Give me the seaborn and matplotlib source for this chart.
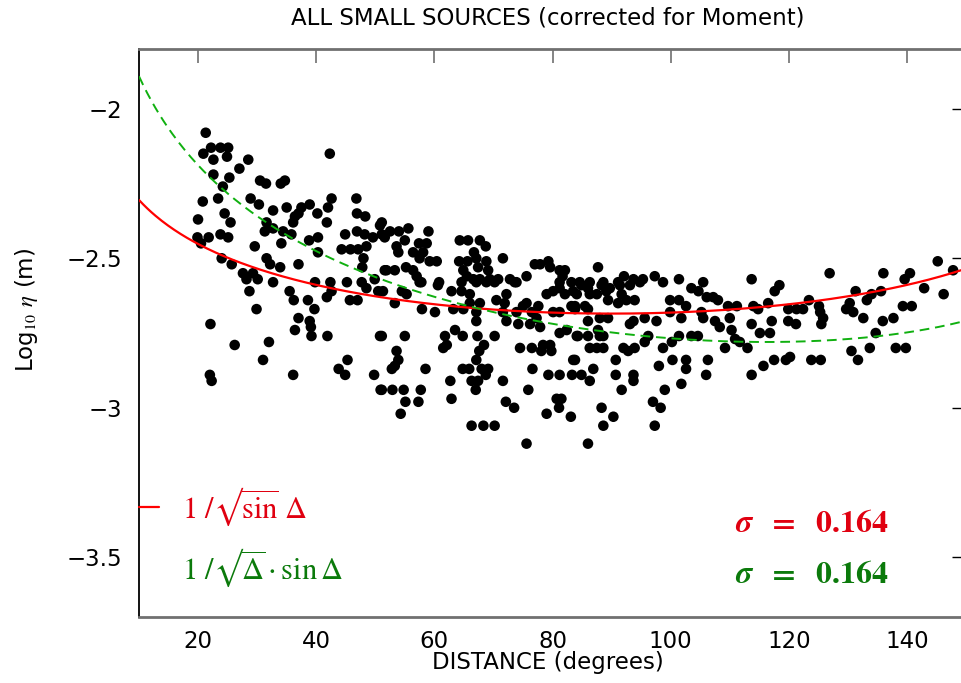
import numpy as np
import pandas as pd
import matplotlib
matplotlib.use("Agg")
import matplotlib.pyplot as plt
from matplotlib.lines import Line2D
import seaborn as sns

# ---------------- data ----------------
dist_a = [21.3,22.2,23.8,25.1,20.9,22.6,24.9,28.5,42.3,27.0,
          22.6,25.3,30.5,31.5,34.7,34.0,24.2,28.9,23.4,20.8,
          30.3,32.7,35.0,37.5,38.9,42.6,42.0,46.8,37.0,40.2,
          46.9,48.3,24.5,20.0,25.5,36.4,36.1,41.8,50.8,31.6,
          31.3,32.7,34.4,35.8,44.9,46.9,48.2,49.6,51.1,23.8,
          25.1,21.8,19.9,20.5,34.1,40.3,38.8,29.6,44.3,45.8,
          47.1,48.5,40.3,48.0,47.8,51.6,24.0,25.7,31.6,32.2,
          33.9,37.0,27.6,29.3,28.2,30.1,32.7,39.8,42.4,45.2,
          47.7,49.9]
eta_a = [-2.08,-2.13,-2.13,-2.13,-2.15,-2.17,-2.16,-2.17,-2.15,-2.20,
         -2.22,-2.23,-2.24,-2.25,-2.24,-2.25,-2.26,-2.30,-2.30,-2.31,
         -2.32,-2.34,-2.33,-2.33,-2.32,-2.30,-2.33,-2.30,-2.35,-2.35,
         -2.35,-2.36,-2.35,-2.37,-2.38,-2.36,-2.38,-2.38,-2.39,-2.38,
         -2.41,-2.40,-2.41,-2.42,-2.42,-2.41,-2.42,-2.43,-2.42,-2.42,
         -2.43,-2.43,-2.43,-2.45,-2.45,-2.43,-2.44,-2.46,-2.47,-2.47,
         -2.47,-2.46,-2.48,-2.50,-2.53,-2.54,-2.50,-2.52,-2.50,-2.52,
         -2.53,-2.52,-2.55,-2.55,-2.57,-2.57,-2.58,-2.58,-2.58,-2.58,
         -2.58,-2.57]

dist_b = [28.7,35.5,36.2,38.6,39.7,41.8,42.6,45.7,47.0,48.5,
          50.5,29.9,37.0,38.9,39.1,36.4,39.2,41.9,50.8,22.1,
          26.2,32.0,31.0,45.3,43.8,44.9,36.1,22.0,22.3,49.8,
          50.9]
eta_b = [-2.61,-2.61,-2.64,-2.64,-2.67,-2.63,-2.61,-2.64,-2.64,-2.60,
         -2.61,-2.67,-2.70,-2.71,-2.73,-2.74,-2.76,-2.76,-2.76,-2.72,
         -2.79,-2.78,-2.84,-2.84,-2.87,-2.89,-2.89,-2.89,-2.91,-2.89,
         -2.94]

dist_c = [51.1,51.6,52.5,54.0,55.6,59.0,53.6,55.0,53.9,56.4,
          57.4,58.7,58.1,59.2,60.4,57.5,51.9,53.3,55.2,56.4,
          57.0,57.8,60.8,64.3,65.7,67.7,68.7,66.7,64.2,65.6,
          67.1,68.8,67.4,69.1,64.9,65.5,66.6,67.7,69.4,70.8,
          71.6,72.8,73.9,75.6,77.0,77.9,79.3,79.6,81.2,82.1,
          81.7,81.2,83.2,84.6]
eta_c = [-2.38,-2.43,-2.41,-2.41,-2.40,-2.41,-2.46,-2.44,-2.48,-2.48,
         -2.45,-2.45,-2.48,-2.51,-2.51,-2.50,-2.54,-2.54,-2.53,-2.54,
         -2.56,-2.58,-2.58,-2.44,-2.44,-2.44,-2.46,-2.48,-2.51,-2.51,
         -2.50,-2.51,-2.53,-2.54,-2.54,-2.56,-2.57,-2.57,-2.57,-2.57,
         -2.50,-2.57,-2.58,-2.56,-2.52,-2.52,-2.51,-2.53,-2.54,-2.54,
         -2.56,-2.58,-2.58,-2.58]

dist_d = [51.3,54.5,55.3,57.5,60.6,53.3,57.9,60.1,62.9,64.6,
          64.6,66.0,67.1,68.8,70.2,73.6,66.0,67.7,63.2,64.9,
          67.1,67.1,70.5,72.2,71.9,71.6,72.2,74.2,73.9,75.0,
          75.6,77.6,76.5,77.3,76.2,77.9,80.1,81.2,79.0,80.1,
          81.2,82.1,83.5,83.2,83.8,81.2,82.4,84.1,51.1,55.0,
          61.8,62.1,61.5,63.5,64.8,67.3,70.2,68.4,67.6,67.1,
          74.5,76.5,78.4,79.6,78.1,79.8,83.5,53.6,53.9,53.3,
          52.8,58.5,64.8,65.9,68.0,69.1,68.7,66.3,67.4,62.7,
          71.6,76.6,79.3,81.2,83.3,51.1,52.9,54.8,57.7,67.0,
          75.9,55.1,57.3,62.9,72.1,73.5,80.7,81.5,81.1,54.3,
          79.0,83.1,66.3,68.3,70.2,75.6]
eta_d = [-2.61,-2.61,-2.62,-2.58,-2.59,-2.65,-2.67,-2.68,-2.61,-2.58,
         -2.61,-2.62,-2.58,-2.58,-2.58,-2.58,-2.65,-2.65,-2.67,-2.67,
         -2.68,-2.71,-2.64,-2.62,-2.65,-2.68,-2.71,-2.72,-2.68,-2.66,
         -2.65,-2.66,-2.68,-2.70,-2.72,-2.73,-2.68,-2.68,-2.62,-2.61,
         -2.60,-2.62,-2.61,-2.66,-2.67,-2.75,-2.74,-2.76,-2.76,-2.76,
         -2.76,-2.79,-2.80,-2.74,-2.76,-2.76,-2.76,-2.79,-2.81,-2.84,
         -2.80,-2.80,-2.79,-2.79,-2.81,-2.81,-2.84,-2.81,-2.84,-2.86,
         -2.87,-2.87,-2.87,-2.87,-2.87,-2.87,-2.89,-2.91,-2.91,-2.91,
         -2.91,-2.87,-2.89,-2.89,-2.89,-2.94,-2.94,-2.94,-2.94,-2.94,
         -2.94,-2.98,-2.98,-2.97,-2.98,-3.00,-2.97,-2.97,-3.00,-3.02,
         -3.02,-3.03,-3.06,-3.06,-3.06,-3.12]

dist_e = [87.7,86.3,88.6,92.1,93.7,95.3,97.3,98.7,101.4,105.5,
          113.7,91.1,84.9,86.0,88.3,89.7,91.4,93.1,94.8,103.5,
          104.7,84.1,86.3,87.5,89.1,89.4,91.7,92.5,91.1,93.9,
          99.9,101.4,102.6,106.1,107.2,108.0,109.7,111.2,114.0,114.8,
          116.5,83.8,85.5,86.0,88.0,89.4,86.0,95.6,97.6,99.9,
          101.8,105.2,105.5,107.5,108.3,110.0,110.3,113.7,115.1,116.8,
          117.1,93.1,93.7,87.7,88.0,88.6,84.3,86.0,96.2,95.6,
          100.2,101.4,103.5,104.6,109.2,110.9,111.7,113.0,86.3,87.5,
          88.6,92.0,92.8,93.9,98.7,83.8,90.7,98.0,100.3,102.6,
          102.6,106.3,115.7,117.5,84.9,86.3,86.9,90.7,93.7,93.7,
          106.0,113.7,91.7,99.0,101.8,97.0,98.3,88.3,90.3,88.6,
          97.3,86.0]
eta_e = [-2.53,-2.58,-2.58,-2.56,-2.57,-2.57,-2.56,-2.58,-2.57,-2.58,
         -2.57,-2.58,-2.59,-2.60,-2.59,-2.60,-2.59,-2.59,-2.58,-2.60,
         -2.61,-2.62,-2.62,-2.62,-2.61,-2.64,-2.62,-2.64,-2.65,-2.64,
         -2.64,-2.64,-2.66,-2.63,-2.63,-2.64,-2.66,-2.66,-2.66,-2.67,
         -2.65,-2.66,-2.66,-2.67,-2.70,-2.70,-2.71,-2.70,-2.71,-2.68,
         -2.70,-2.68,-2.70,-2.71,-2.73,-2.70,-2.74,-2.72,-2.75,-2.75,
         -2.71,-2.72,-2.71,-2.74,-2.76,-2.76,-2.76,-2.76,-2.76,-2.78,
         -2.78,-2.76,-2.76,-2.76,-2.80,-2.77,-2.78,-2.80,-2.80,-2.80,
         -2.80,-2.80,-2.81,-2.80,-2.80,-2.84,-2.84,-2.86,-2.84,-2.84,
         -2.87,-2.84,-2.86,-2.84,-2.89,-2.91,-2.87,-2.89,-2.89,-2.91,
         -2.89,-2.89,-2.94,-2.94,-2.92,-2.98,-3.00,-3.00,-3.03,-3.06,
         -3.06,-3.12]

dist_f = [126.9,136.0,140.5,139.6,145.2,147.8,118.4,117.6,119.9,121.3,
          122.4,123.4,125.1,125.3,125.8,125.5,119.9,121.2,129.7,130.3,
          130.9,131.3,132.6,133.2,134.0,135.6,135.9,137.7,139.3,140.8,
          142.9,146.2,134.7,119.5,120.2,123.8,125.4,130.6,131.7,133.7,
          138.1,139.8]
eta_f = [-2.55,-2.55,-2.55,-2.57,-2.51,-2.54,-2.59,-2.61,-2.67,-2.67,
         -2.67,-2.64,-2.66,-2.68,-2.70,-2.72,-2.71,-2.72,-2.67,-2.65,
         -2.68,-2.61,-2.70,-2.64,-2.62,-2.61,-2.71,-2.70,-2.66,-2.66,
         -2.60,-2.62,-2.75,-2.84,-2.83,-2.84,-2.84,-2.81,-2.84,-2.80,
         -2.80,-2.80]

# fitted model levels (log10 eta at the curve reference point)
red_level = -2.685     # 1/sqrt(sin D)
green_level = -2.65    # 1/sqrt(D * sin D)
sigma_red = "0.164"
sigma_green = "0.164"

x_ticks = [20, 40, 60, 80, 100, 120, 140]
y_ticks = [-3.5, -3.0, -2.5, -2.0]
y_tick_labels = ["\u22123.5", "\u22123", "\u22122.5", "\u22122"]

# ---------------- figure ----------------
sns.set_theme(style="white")
plt.rcParams["font.family"] = ["DejaVu Sans"]
plt.rcParams["mathtext.fontset"] = "stix"
plt.rcParams["text.color"] = "black"

fig = plt.figure(figsize=(9.61, 6.83), dpi=100)
ax = fig.add_axes([0.1446, 0.0966, 0.8607, 0.8316])

df = pd.DataFrame({
    "distance": dist_a + dist_b + dist_c + dist_d + dist_e + dist_f,
    "log_eta": eta_a + eta_b + eta_c + eta_d + eta_e + eta_f,
})
sns.scatterplot(data=df, x="distance", y="log_eta", color="black", s=58,
                edgecolor="none", linewidth=0, ax=ax, zorder=3, legend=False)

xs = np.linspace(10, 150, 400)
rad = np.radians(xs)
curves = pd.DataFrame({
    "distance": xs,
    "red": red_level - 0.5 * np.log10(np.sin(rad)),
    "green": green_level - 0.5 * np.log10(rad * np.sin(rad)),
})
sns.lineplot(data=curves, x="distance", y="red", color="#ff0000", lw=1.6,
             ax=ax, zorder=4)
sns.lineplot(data=curves, x="distance", y="green", color="#10b010", lw=1.4,
             linestyle=(0, (5, 3)), ax=ax, zorder=4)

ax.set_xlim(10, 150)
ax.set_ylim(-3.7, -1.8)
ax.set_xticks(x_ticks)
ax.set_xticklabels([str(v) for v in x_ticks])
ax.set_yticks(y_ticks)
ax.set_yticklabels(y_tick_labels)
ax.set_xlabel("")
ax.set_ylabel("")

ax.tick_params(axis="both", direction="in", length=10, labelsize=16.5,
               top=True, right=True, labelcolor="black")
ax.tick_params(axis="x", color="#707070", width=1.2, pad=9)
ax.tick_params(axis="y", color="black", width=1.0, pad=12)

for side in ["top", "bottom"]:
    ax.spines[side].set_color("#707070")
    ax.spines[side].set_linewidth(2.0)
ax.spines["left"].set_color("black")
ax.spines["left"].set_linewidth(1.3)
ax.spines["right"].set_visible(False)

fig.text(0.570, 0.9736, "ALL SMALL SOURCES (corrected for Moment)",
         ha="center", va="center", fontsize=16.5, color="black")
fig.text(0.570, 0.0293, "DISTANCE (degrees)", ha="center", va="center",
         fontsize=16.5, color="black")
fig.text(0.028, 0.546, r"Log$_{10}$ $\eta$ (m)", ha="center", va="center",
         rotation=90, fontsize=16.5, color="black")

handles = [Line2D([], [], color="#ff0000", lw=1.6),
           Line2D([], [], color="none")]
labels = ["$1\\ /\u221a\\overline{\\mathrm{sin}}\\ \\Delta$",
          "$1\\ /\u221a\\overline{\\Delta}\\cdot\\mathrm{sin}\\,\\Delta$"]
leg = ax.legend(handles, labels, loc="upper left",
                bbox_to_anchor=(0.0, 0.231), frameon=False, fontsize=22,
                handlelength=0.65, handletextpad=0.75, labelspacing=0.62,
                borderaxespad=0.0, borderpad=0.0,
                labelcolor=["#e00010", "#0b7a0b"])

fig.text(0.7648, 0.2211, r"$\boldsymbol{\sigma}\ \ \mathbf{=\ \ " + sigma_red + "}$",
         color="#e00010", fontsize=23, va="baseline", ha="left")
fig.text(0.7648, 0.1464, r"$\boldsymbol{\sigma}\ \ \mathbf{=\ \ " + sigma_green + "}$",
         color="#0b7a0b", fontsize=23, va="baseline", ha="left")

fig.savefig("out.png", dpi=100)
